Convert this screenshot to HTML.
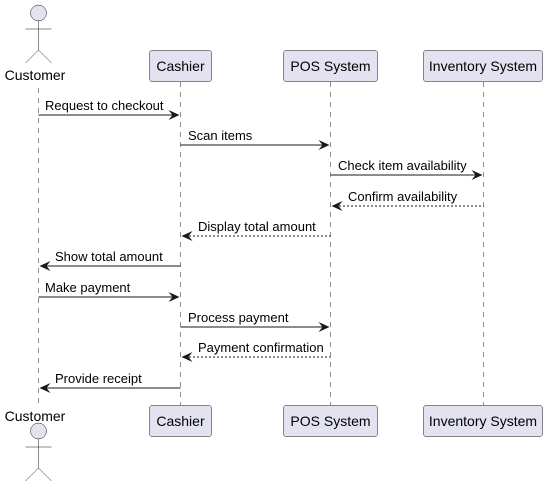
<!DOCTYPE html>
<html><head><meta charset="utf-8"><style>html,body{margin:0;padding:0;background:#fff}</style></head>
<body>
<svg width="549" height="487" xmlns="http://www.w3.org/2000/svg" font-family="Liberation Sans, sans-serif">
<g stroke="#181818" stroke-width="0.5" stroke-dasharray="5,5">
<line x1="38.5" y1="88" x2="38.5" y2="405"/>
<line x1="180.5" y1="82" x2="180.5" y2="405"/>
<line x1="330.5" y1="82" x2="330.5" y2="405"/>
<line x1="483.5" y1="82" x2="483.5" y2="405"/>
</g>
<g fill="#E2E2F0" stroke="#181818" stroke-width="0.5">
<circle cx="38.5" cy="13" r="8"/>
<circle cx="38.5" cy="431" r="8"/>
<rect x="149.5" y="50.5" width="62" height="31" rx="2.5"/>
<rect x="283.5" y="50.5" width="94" height="31" rx="2.5"/>
<rect x="423.5" y="50.5" width="119" height="31" rx="2.5"/>
<rect x="149.5" y="405.5" width="62" height="31" rx="2.5"/>
<rect x="283.5" y="405.5" width="94" height="31" rx="2.5"/>
<rect x="423.5" y="405.5" width="119" height="31" rx="2.5"/>
</g>
<g stroke="#181818" stroke-width="0.5" fill="none">
<path d="M38.5 21V50M25.5 29H51.5M38.5 50L25.5 63M38.5 50L51.5 63"/>
<path d="M38.5 439V468M25.5 447H51.5M38.5 468L25.5 481M38.5 468L51.5 481"/>
</g>
<g font-size="14" fill="#000" text-anchor="middle">
<text x="35" y="80">Customer</text>
<text x="35" y="421">Customer</text>
<text x="180.5" y="71">Cashier</text>
<text x="330.5" y="71">POS System</text>
<text x="483" y="71">Inventory System</text>
<text x="180.5" y="426">Cashier</text>
<text x="330.5" y="426">POS System</text>
<text x="483" y="426">Inventory System</text>
</g>
<g stroke="#181818" stroke-width="1" fill="none">
<line x1="38.5" y1="115" x2="176" y2="115"/>
<line x1="180.5" y1="145" x2="326" y2="145"/>
<line x1="330.5" y1="175" x2="479" y2="175"/>
<line x1="335" y1="206" x2="483.5" y2="206" stroke-dasharray="2,2"/>
<line x1="185" y1="236" x2="330.5" y2="236" stroke-dasharray="2,2"/>
<line x1="43" y1="266" x2="180.5" y2="266"/>
<line x1="38.5" y1="297" x2="176" y2="297"/>
<line x1="180.5" y1="327" x2="326" y2="327"/>
<line x1="185" y1="357" x2="330.5" y2="357" stroke-dasharray="2,2"/>
<line x1="43" y1="388" x2="180.5" y2="388"/>
</g>
<g fill="#181818">
<path d="M179.5 115l-11-5 4 5-4 5z"/>
<path d="M329.5 145l-11-5 4 5-4 5z"/>
<path d="M482.5 175l-11-5 4 5-4 5z"/>
<path d="M331.5 206l11-5-4 5 4 5z"/>
<path d="M181.5 236l11-5-4 5 4 5z"/>
<path d="M39.5 266l11-5-4 5 4 5z"/>
<path d="M179.5 297l-11-5 4 5-4 5z"/>
<path d="M329.5 327l-11-5 4 5-4 5z"/>
<path d="M181.5 357l11-5-4 5 4 5z"/>
<path d="M39.5 388l11-5-4 5 4 5z"/>
</g>
<g font-size="13" fill="#000">
<text x="45" y="110">Request to checkout</text>
<text x="188" y="140">Scan items</text>
<text x="338" y="170">Check item availability</text>
<text x="348" y="201">Confirm availability</text>
<text x="198" y="231">Display total amount</text>
<text x="55" y="261">Show total amount</text>
<text x="45" y="292">Make payment</text>
<text x="188" y="322">Process payment</text>
<text x="198" y="352">Payment confirmation</text>
<text x="55" y="383">Provide receipt</text>
</g>
</svg>
</body></html>
